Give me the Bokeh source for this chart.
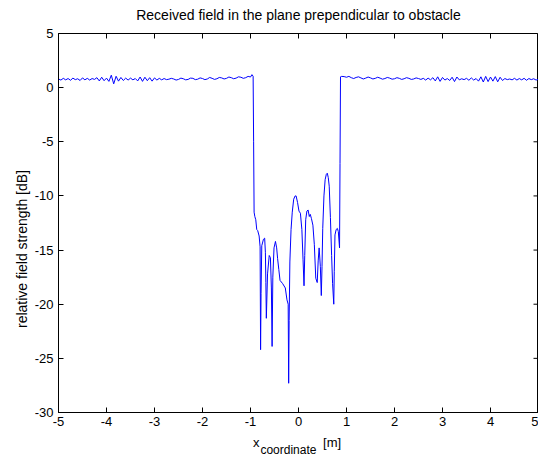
import numpy as np
from bokeh.plotting import figure
from bokeh.models import Range1d, LinearAxis, FixedTicker
from bokeh.embed import file_html
from bokeh.resources import INLINE

TITLE = "Received field in the plane prependicular to obstacle"
Y_LABEL = "relative field strength [dB]"
X_LABEL_MAIN = "x"
X_LABEL_SUB = "coordinate"
X_LABEL_UNIT = "[m]"

x_ticks = [-5, -4, -3, -2, -1, 0, 1, 2, 3, 4, 5]
x_tick_labels = ["-5", "-4", "-3", "-2", "-1", "0", "1", "2", "3", "4", "5"]
y_ticks = [-30, -25, -20, -15, -10, -5, 0, 5]
y_tick_labels = ["-30", "-25", "-20", "-15", "-10", "-5", "0", "5"]

# flat region left of obstacle, sampled every 0.05 m starting at -5.00
left_start, left_step = -5.0, 0.05
left_vals = [
    0.80, 0.70, 0.86, 0.72, 0.84, 0.68, 0.88, 0.74, 0.82, 0.66, 0.90, 0.72, 0.86, 0.70, 0.84, 0.76,
    0.92, 0.62, 0.96, 0.64, 0.88, 0.58, 1.15, 0.35, 1.05, 0.60, 0.94, 0.66, 0.88,
    0.70, 0.88, 0.72, 0.84, 0.62, 0.98, 0.58, 0.96, 0.64, 0.92, 0.60, 0.90, 0.70, 0.86, 0.72, 0.84, 0.74,
    0.78, 0.86, 0.80, 0.70, 0.76, 0.88, 0.82, 0.72, 0.76, 0.88, 0.86, 0.74, 0.78, 0.90, 0.84, 0.74,
    0.80, 0.94, 0.86, 0.76, 0.82, 0.94, 0.90, 0.80, 0.86, 0.98, 0.92, 0.82, 0.88, 1.00, 0.96, 0.86,
    0.92, 1.04, 0.98,
]

# shadow region behind the obstacle
mid_x = [-0.97, -0.945, -0.935, -0.925, -0.91, -0.89, -0.87, -0.85, -0.82, -0.80,
         -0.79, -0.78, -0.765, -0.73, -0.705, -0.69, -0.68, -0.67, -0.645, -0.61,
         -0.585, -0.565, -0.55, -0.535, -0.51, -0.48, -0.455, -0.435, -0.41, -0.385,
         -0.33, -0.275, -0.24, -0.215, -0.205, -0.195, -0.18, -0.155, -0.13, -0.10,
         -0.07, -0.05, -0.02, 0.01, 0.04, 0.07, 0.095, 0.115, 0.13, 0.15,
         0.175, 0.20, 0.225, 0.245, 0.27, 0.30, 0.33, 0.36, 0.39, 0.41,
         0.43, 0.455, 0.475, 0.49, 0.505, 0.53, 0.555, 0.58, 0.60, 0.62,
         0.64, 0.665, 0.69, 0.71, 0.735, 0.745, 0.76, 0.785, 0.81, 0.83,
         0.855, 0.865, 0.875]
mid_y = [1.2, 1.05, -5.0, -11.5, -11.9, -12.2, -13.1, -13.2, -13.7, -14.7,
         -24.2, -19.0, -14.6, -14.0, -13.9, -15.2, -18.0, -21.3, -17.2, -15.5,
         -15.7, -18.5, -23.9, -17.5, -14.8, -14.2, -14.8, -15.8, -16.8, -17.8,
         -18.1, -18.5, -19.6, -20.0, -27.3, -21.5, -16.1, -13.1, -11.5, -10.3,
         -10.0, -10.0, -10.6, -11.4, -11.6, -13.1, -15.9, -18.3, -15.5, -12.2,
         -11.4, -11.3, -11.9, -11.7, -12.1, -12.7, -14.5, -17.6, -18.0, -16.0,
         -14.8, -16.5, -19.2, -16.5, -13.0, -10.0, -8.5, -8.0, -7.9, -8.3,
         -9.1, -12.0, -15.5, -18.1, -20.0, -17.0, -13.6, -13.1, -13.0, -13.3,
         -14.8, -7.0, 1.0]

# flat region right of obstacle, sampled every 0.05 m starting at 0.90
right_start, right_step = 0.90, 0.05
right_vals = [
    1.04, 1.02, 0.96, 1.04, 0.92, 0.84, 0.94, 1.00, 0.90, 0.80, 0.88, 0.98, 0.90, 0.80, 0.86, 0.96,
    0.88, 0.78, 0.84, 0.94, 0.88, 0.78, 0.82, 0.92, 0.86, 0.76, 0.82, 0.92, 0.86, 0.76, 0.80, 0.90,
    0.84, 0.76,
    0.86, 0.70, 0.88, 0.72, 0.92, 0.62, 1.00, 0.58, 0.94, 0.70, 0.84, 0.66, 0.96, 0.56, 0.98, 0.72,
    0.82, 0.74, 0.86, 0.68, 0.90, 0.70, 0.84, 0.60, 1.00, 0.52, 1.04, 0.56, 0.98, 0.60, 1.02, 0.54,
    0.96, 0.66, 0.84, 0.74, 0.80, 0.72, 0.86, 0.70, 0.84, 0.72, 0.86, 0.68, 0.84, 0.74, 0.82, 0.70,
    0.78,
]

left_x = left_start + left_step * np.arange(len(left_vals))
right_x = right_start + right_step * np.arange(len(right_vals))
xs = np.concatenate([left_x, np.array(mid_x), right_x])
ys = np.concatenate([np.array(left_vals), np.array(mid_y), np.array(right_vals)])

FONT = "Liberation Sans"
FS = "13px"

p = figure(width=538, height=459, output_backend="svg", toolbar_location=None,
           x_range=Range1d(-5, 5), y_range=Range1d(-30, 5),
           min_border_left=58, min_border_right=0, min_border_top=33, min_border_bottom=44,
           background_fill_color="white", border_fill_color="white")
p.xgrid.visible = False
p.ygrid.visible = False
p.outline_line_color = "black"
p.outline_line_width = 1

p.line(xs, ys, line_color="#0000ff", line_width=1)

# inward tick marks on the top and right edges of the box
p.ray(x=x_ticks, y=[y_ticks[-1]] * len(x_ticks), length=5, length_units="screen",
      angle=-90, angle_units="deg", line_color="black", line_width=1)
p.ray(x=[x_ticks[-1]] * len(y_ticks), y=y_ticks, length=5, length_units="screen",
      angle=180, angle_units="deg", line_color="black", line_width=1)

for ax in (p.xaxis[0], p.yaxis[0]):
    ax.major_tick_in = 5
    ax.major_tick_out = 0
    ax.minor_tick_line_color = None
    ax.axis_line_color = "black"
    ax.major_tick_line_color = "black"
    ax.major_label_text_font = FONT
    ax.major_label_text_font_size = FS
    ax.major_label_text_color = "black"

p.xaxis[0].ticker = FixedTicker(ticks=x_ticks)
p.xaxis[0].major_label_overrides = dict(zip(x_ticks, x_tick_labels))
p.yaxis[0].ticker = FixedTicker(ticks=y_ticks)
p.yaxis[0].major_label_overrides = dict(zip(y_ticks, y_tick_labels))
p.xaxis[0].major_label_standoff = 4
p.yaxis[0].major_label_standoff = 5


def label_axis(positions, texts, size, standoff, orientation="horizontal"):
    """An axis without line or ticks that only shows the given texts at the given anchors."""
    return LinearAxis(ticker=FixedTicker(ticks=positions),
                      major_label_overrides=dict(zip(positions, texts)),
                      major_label_orientation=orientation,
                      axis_line_color=None, major_tick_line_color=None, minor_tick_line_color=None,
                      major_tick_in=0, major_tick_out=0, major_label_standoff=standoff,
                      major_label_text_font=FONT, major_label_text_font_size=size,
                      major_label_text_color="black")


# title centred above the box
title_pos = 0.0
p.add_layout(label_axis([title_pos], [TITLE], "14px", 11), "above")

# y axis label (anchor in dB units)
ylab_pos = -14.9
p.add_layout(label_axis([ylab_pos], [Y_LABEL], "14px", 1, "vertical"), "left")

# x axis label "x_coordinate [m]" (anchors in m units)
main_pos, unit_pos, sub_pos = -0.88, 0.70, -0.21
p.add_layout(label_axis([main_pos, unit_pos], [X_LABEL_MAIN, X_LABEL_UNIT], FS, 6), "below")
p.add_layout(label_axis([sub_pos], [X_LABEL_SUB], "12px", -10), "below")

open("out.html", "w").write(file_html(p, INLINE))
